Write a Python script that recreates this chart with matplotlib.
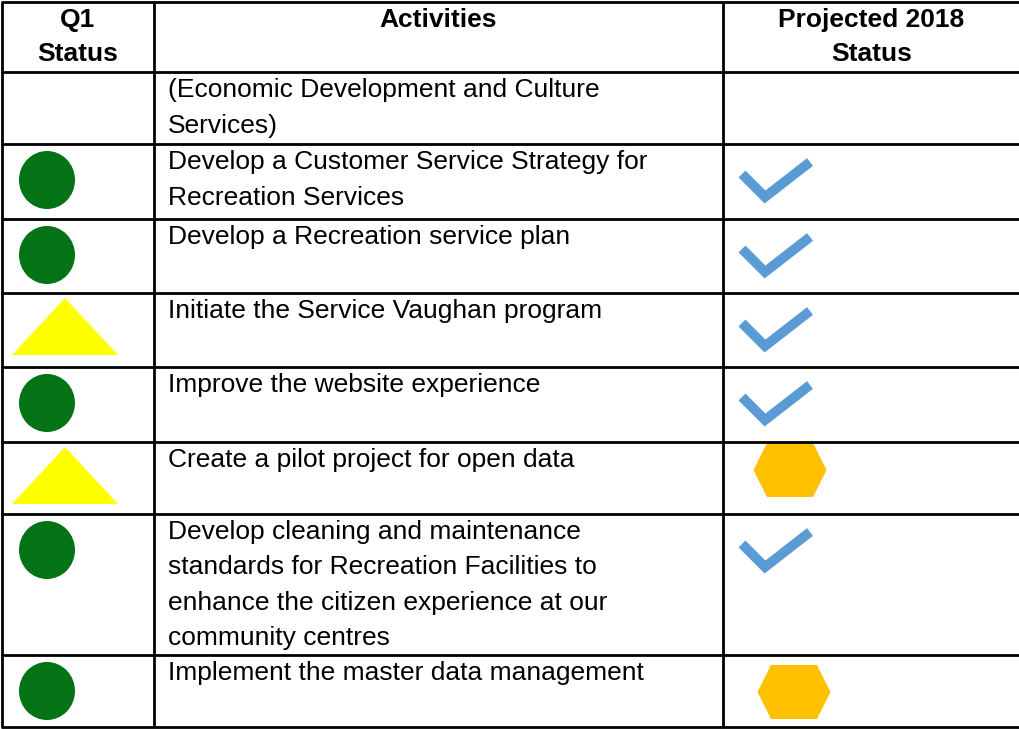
#!/usr/bin/env python3
"""Q1 status table: activities with current and projected 2018 status icons."""

import matplotlib

matplotlib.use("Agg")
import matplotlib.pyplot as plt
from matplotlib.patches import Ellipse, Polygon

# ── Table content ───────────────────────────────────────────────
headers = ["Q1\nStatus", "Activities", "Projected 2018\nStatus"]

activities = [
    "(Economic Development and Culture\nServices)",
    "Develop a Customer Service Strategy for\nRecreation Services",
    "Develop a Recreation service plan",
    "Initiate the Service Vaughan program",
    "Improve the website experience",
    "Create a pilot project for open data",
    "Develop cleaning and maintenance\nstandards for Recreation Facilities to\n"
    "enhance the citizen experience at our\ncommunity centres",
    "Implement the master data management",
]

# "green" = on track (circle), "yellow" = caution (triangle)
q1_status = [None, "green", "green", "yellow", "green", "yellow", "green", "green"]

# "check" = complete, "hex" = in progress
projected_status = [None, "check", "check", "check", "check", "hex", "check", "hex"]

# ── Layout (pixel coordinates of the grid) ──────────────────────
W, H = 1020, 729
col_edges = [2, 154, 723, 1020]
row_edges = [2, 72, 144, 219, 293, 367, 442, 514, 655, 727]

GREEN = "#037316"
YELLOW = "#FFFF00"
BLUE = "#5B9BD5"
AMBER = "#FFC000"

FONT = "Liberation Sans"
FS = 19.0
LINE_STEP = 35.5

fig = plt.figure(figsize=(W / 100, H / 100), dpi=100)
ax = fig.add_axes([0, 0, 1, 1])
ax.set_xlim(0, W)
ax.set_ylim(H, 0)
ax.axis("off")

# Grid lines
for y in row_edges:
    ax.plot([col_edges[0] - 1, W], [y, y], color="black", lw=2.0, solid_capstyle="butt")
for x in col_edges[:-1]:
    ax.plot([x, x], [row_edges[0], row_edges[-1]], color="black", lw=2.0,
            solid_capstyle="butt")

# Header
for i, h in enumerate(headers):
    cx = (col_edges[i] + col_edges[i + 1]) / 2
    for j, line in enumerate(h.split("\n")):
        ax.text(cx, row_edges[0] + 25 + j * 34, line, ha="center", va="baseline",
                fontsize=FS, fontweight="bold", family=FONT)

# Body rows
for r, (act, q1, proj) in enumerate(zip(activities, q1_status, projected_status)):
    top = row_edges[r + 1]
    for j, line in enumerate(act.split("\n")):
        ax.text(col_edges[1] + 14, top + 25 + j * LINE_STEP, line, ha="left",
                va="baseline", fontsize=FS, family=FONT)

    if q1 == "green":
        ax.add_patch(Ellipse((47, top + 36), 56, 58, facecolor=GREEN, edgecolor="none"))
    elif q1 == "yellow":
        ax.add_patch(Polygon([(12, top + 62), (65, top + 5), (118, top + 62)],
                             closed=True, facecolor=YELLOW, edgecolor="none"))

    if proj == "check":
        ax.plot([742, 765, 810], [top + 30, top + 53, top + 18], color=BLUE,
                lw=7.0, solid_joinstyle="miter", solid_capstyle="butt")
    elif proj == "hex":
        cx, cy = (790, top + 28) if r == 5 else (794, top + 37)
        w, h = 73, 54
        ax.add_patch(Polygon([(cx - w / 2, cy), (cx - 23, cy - h / 2), (cx + 23, cy - h / 2),
                              (cx + w / 2, cy), (cx + 23, cy + h / 2), (cx - 23, cy + h / 2)],
                             closed=True, facecolor=AMBER, edgecolor="none"))

fig.savefig("out.png", dpi=100, facecolor="white")
